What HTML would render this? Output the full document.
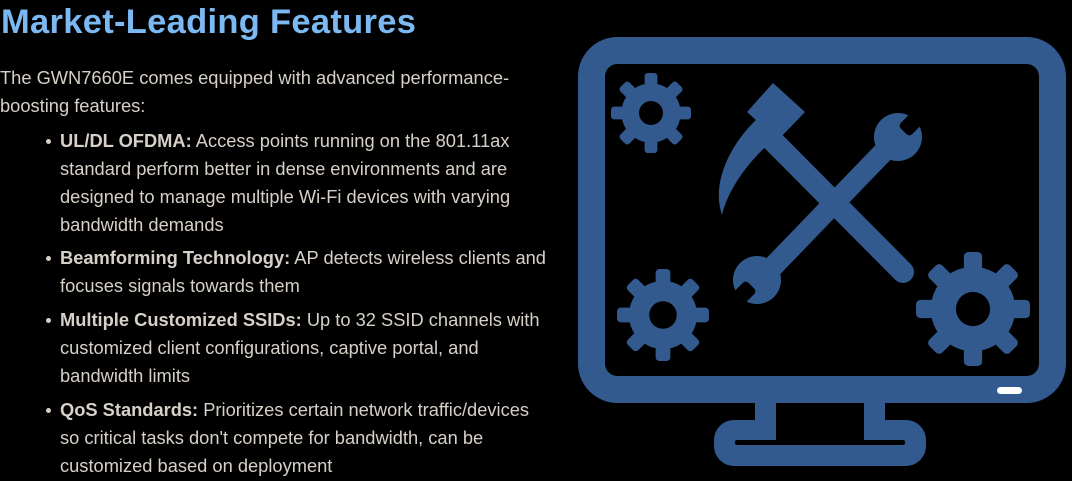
<!DOCTYPE html>
<html><head><meta charset="utf-8"><style>
body{margin:0;width:1072px;height:481px;background:#000;overflow:hidden;position:relative;font-family:"Liberation Sans",sans-serif}
h1{position:absolute;left:1px;top:2px;margin:0;font-size:34.5px;font-weight:bold;color:#7cb9f2;letter-spacing:0.3px;white-space:nowrap;line-height:40px}
.l{position:absolute;font-size:18.3px;color:#d6d0c8;white-space:nowrap;line-height:28px}
.b{font-weight:bold}
.d{position:absolute;left:46px;width:5px;height:5px;border-radius:50%;background:#d6d0c8}
</style></head><body>
<h1>Market-Leading Features</h1>
<div class="l" style="left:0;top:64px">The GWN7660E comes equipped with advanced performance-</div>
<div class="l" style="left:0;top:92px">boosting features:</div>

<div class="d" style="top:139px"></div>
<div class="l" style="left:60px;top:127px"><span class="b">UL/DL OFDMA:</span> Access points running on the 801.11ax</div>
<div class="l" style="left:60px;top:155px">standard perform better in dense environments and are</div>
<div class="l" style="left:60px;top:183px">designed to manage multiple Wi-Fi devices with varying</div>
<div class="l" style="left:60px;top:211px">bandwidth demands</div>

<div class="d" style="top:256px"></div>
<div class="l" style="left:60px;top:244px"><span class="b">Beamforming Technology:</span> AP detects wireless clients and</div>
<div class="l" style="left:60px;top:272px">focuses signals towards them</div>

<div class="d" style="top:318px"></div>
<div class="l" style="left:60px;top:306px"><span class="b">Multiple Customized SSIDs:</span> Up to 32 SSID channels with</div>
<div class="l" style="left:60px;top:334px">customized client configurations, captive portal, and</div>
<div class="l" style="left:60px;top:362px">bandwidth limits</div>

<div class="d" style="top:408px"></div>
<div class="l" style="left:60px;top:396px"><span class="b">QoS Standards:</span> Prioritizes certain network traffic/devices</div>
<div class="l" style="left:60px;top:424px">so critical tasks don't compete for bandwidth, can be</div>
<div class="l" style="left:60px;top:452px">customized based on deployment</div>

<svg width="1072" height="481" style="position:absolute;left:0;top:0">
<defs>
<g id="gear">
<circle r="0.74" fill="#335a8f"/>
<g fill="#335a8f">
<rect x="-0.16" y="-1" width="0.32" height="0.5" rx="0.08"/>
<rect x="-0.16" y="-1" width="0.32" height="0.5" rx="0.08" transform="rotate(45)"/>
<rect x="-0.16" y="-1" width="0.32" height="0.5" rx="0.08" transform="rotate(90)"/>
<rect x="-0.16" y="-1" width="0.32" height="0.5" rx="0.08" transform="rotate(135)"/>
<rect x="-0.16" y="-1" width="0.32" height="0.5" rx="0.08" transform="rotate(180)"/>
<rect x="-0.16" y="-1" width="0.32" height="0.5" rx="0.08" transform="rotate(225)"/>
<rect x="-0.16" y="-1" width="0.32" height="0.5" rx="0.08" transform="rotate(270)"/>
<rect x="-0.16" y="-1" width="0.32" height="0.5" rx="0.08" transform="rotate(315)"/>
</g>
<circle r="0.3" fill="#000"/>
</g>
</defs>
<!-- monitor -->
<rect x="591.5" y="50.5" width="461" height="339" rx="26" fill="none" stroke="#335a8f" stroke-width="27"/>
<rect x="755" y="402" width="130" height="26" fill="#335a8f"/>
<rect x="714" y="420" width="212" height="46" rx="20" fill="#335a8f"/>
<rect x="735" y="440" width="170" height="5" rx="2" fill="#000"/>
<rect x="776" y="403" width="88" height="37" fill="#000"/>
<rect x="997" y="387" width="25" height="7" rx="3.5" fill="#fff"/>
<!-- gears -->
<use href="#gear" transform="translate(651,113) scale(40)"/>
<use href="#gear" transform="translate(663,315) scale(46)"/>
<use href="#gear" transform="translate(973,309) scale(57)"/>
<!-- hammer -->
<line x1="772" y1="140" x2="903" y2="272" stroke="#335a8f" stroke-width="22" stroke-linecap="round"/>
<polygon points="773,83 805,112 778,140 747,112" fill="#335a8f"/>
<path d="M758,118 C734,140 710,180 722,215 C728,190 748,160 778,136 Z" fill="#335a8f"/>
<!-- wrench -->
<line x1="760" y1="280" x2="895" y2="140" stroke="#335a8f" stroke-width="21" stroke-linecap="round"/>
<g transform="translate(898,137) rotate(45)">
<circle r="24" fill="#335a8f"/>
<rect x="-8" y="-30" width="16" height="22" rx="4" fill="#000"/>
</g>
<g transform="translate(757,280) rotate(225)">
<circle r="24" fill="#335a8f"/>
<rect x="-8" y="-30" width="16" height="22" rx="4" fill="#000"/>
</g>
</svg>
</body></html>
